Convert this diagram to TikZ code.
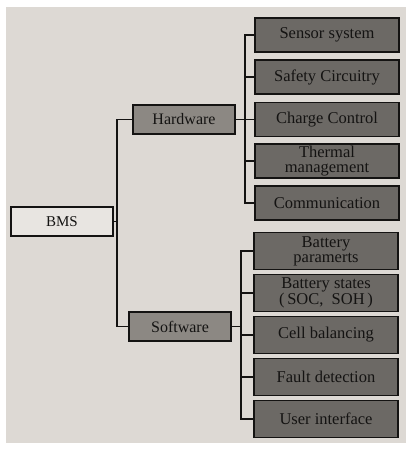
\documentclass[tikz,border=0pt]{standalone}
\usepackage{fontspec}
\setmainfont{Liberation Serif}
\definecolor{page}{RGB}{221,217,212}
\definecolor{darkbox}{RGB}{108,105,101}
\definecolor{midbox}{RGB}{140,136,131}
\definecolor{lightbox}{RGB}{232,229,225}
\definecolor{ink}{RGB}{20,19,18}
\tikzset{
  base/.style={draw=ink, line width=1.5pt, inner sep=0pt, anchor=center, text=ink, align=center},
  rootbox/.style={base, fill=lightbox, minimum width=102pt, minimum height=29pt, font=\fontsize{15}{14}\selectfont},
  midnode/.style={base, fill=midbox, minimum width=102pt, minimum height=29pt, font=\fontsize{16}{15}\selectfont},
  leafup/.style={base, fill=darkbox, minimum width=144pt, minimum height=34pt, font=\fontsize{16.5}{15}\selectfont},
  leaflow/.style={base, fill=darkbox, minimum width=144pt, minimum height=37pt, font=\fontsize{16.5}{15}\selectfont},
  conn/.style={draw=ink, line width=1.5pt},
}
\begin{document}
\begin{tikzpicture}[x=1pt,y=-1pt]
\useasboundingbox (0,0) rectangle (411,449);
\fill[white] (0,0) rectangle (411,449);
\fill[page] (6,7) rectangle (406,443);

\node[rootbox] (bms) at (62,221.5) {BMS};
\node[midnode] (hw) at (184,119.5) {Hardware};
\node[midnode] (sw) at (180,326.5) {Software};

\node[leafup] (h1) at (327,35) {Sensor system};
\node[leafup] (h2) at (327,77) {Safety Circuitry};
\node[leafup] (h3) at (327,119.5) {Charge Control};
\node[leafup] (h4) at (327,161) {Thermal\\management};
\node[leafup] (h5) at (327,203) {Communication};

\node[leaflow] (s1) at (326,251) {Battery\\paramerts};
\node[leaflow] (s2) at (326,293) {Battery states\\(\,SOC,\enspace SOH\,)};
\node[leaflow] (s3) at (326,335) {Cell balancing};
\node[leaflow] (s4) at (326,377) {Fault detection};
\node[leaflow] (s5) at (326,419) {User interface};

\coordinate (bt) at (117,221.5);
\coordinate (ht) at (245,119.5);
\coordinate (st) at (241,326.5);

\draw[conn] (bms.east) -- (bt);
\draw[conn] (hw.west) -| (bt);
\draw[conn] (sw.west) -| (bt);

\draw[conn] (hw.east) -- (ht);
\foreach \n in {h1,h2,h3,h4,h5} \draw[conn] (\n.west) -| (ht);

\draw[conn] (sw.east) -- (st);
\foreach \n in {s1,s2,s3,s4,s5} \draw[conn] (\n.west) -| (st);
\end{tikzpicture}
\end{document}
